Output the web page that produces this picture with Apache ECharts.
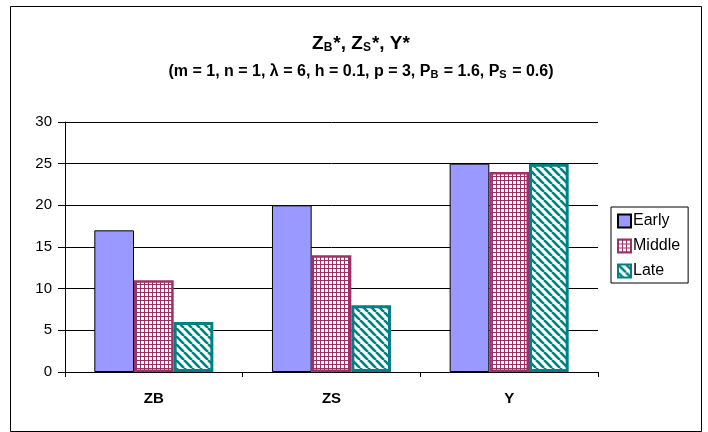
<!DOCTYPE html>
<html>
<head>
<meta charset="utf-8">
<script src="https://cdn.jsdelivr.net/npm/echarts@6/dist/echarts.min.js"></script>
<style>
  html, body { margin: 0; padding: 0; background: #fff; }
  #chart { width: 708px; height: 432px; }
</style>
</head>
<body>
<div id="chart"></div>
<script>
const categories = ['ZB', 'ZS', 'Y'];
const seriesNames = ['Early', 'Middle', 'Late'];
const earlyValues = [17, 20, 25];
const middleValues = [11, 14, 24];
const lateValues = [6, 8, 25];
const yTicks = [0, 5, 10, 15, 20, 25, 30];

// hatch patterns drawn on small canvases
const makeGrid = () => {
  const c = document.createElement('canvas');
  c.width = 4; c.height = 4;
  const ctx = c.getContext('2d');
  ctx.fillStyle = '#ffffff';
  ctx.fillRect(0, 0, 4, 4);
  ctx.fillStyle = '#993366';
  ctx.fillRect(0, 0, 4, 1);
  ctx.fillRect(0, 0, 1, 4);
  return c;
};

const makeDiag = () => {
  const s = 8;
  const c = document.createElement('canvas');
  c.width = s; c.height = s;
  const ctx = c.getContext('2d');
  ctx.fillStyle = '#ffffff';
  ctx.fillRect(0, 0, s, s);
  ctx.strokeStyle = '#008080';
  ctx.lineWidth = 2.6;
  ctx.beginPath();
  for (let k = -1; k <= 1; k++) {
    ctx.moveTo(k * s, 0);
    ctx.lineTo(k * s + s, s);
  }
  ctx.stroke();
  return c;
};

const chart = echarts.init(document.getElementById('chart'));

const fontFamily = 'Liberation Sans, Arial, sans-serif';

const option = {
  backgroundColor: '#ffffff',
  animation: false,
  title: [
    {
      text: 'Z{sub|B}*, Z{sub|S}*, Y*',
      left: 356,
      textAlign: 'center',
      top: 29,
      textStyle: {
        fontFamily,
        fontSize: 19,
        fontWeight: 'bold',
        color: '#000',
        lineHeight: 20,
        rich: {
          sub: {
            fontFamily,
            fontSize: 12,
            fontWeight: 'bold',
            color: '#000',
            verticalAlign: 'bottom',
            lineHeight: 14,
            padding: [13, 1, 0, 0]
          }
        }
      }
    },
    {
      text: '(m = 1, n = 1, λ = 6, h = 0.1, p = 3, P{sub|B} = 1.6, P{sub|S} = 0.6)',
      left: 356,
      textAlign: 'center',
      top: 58,
      textStyle: {
        fontFamily,
        fontSize: 16,
        fontWeight: 'bold',
        color: '#000',
        lineHeight: 17,
        rich: {
          sub: {
            fontFamily,
            fontSize: 11,
            fontWeight: 'bold',
            color: '#000',
            verticalAlign: 'bottom',
            lineHeight: 12,
            padding: [8, 1, 0, 0]
          }
        }
      }
    }
  ],
  graphic: [
    {
      type: 'rect',
      shape: { x: 10.5, y: 6.5, width: 691, height: 425 },
      style: { fill: 'none', stroke: '#000', lineWidth: 1 },
      silent: true
    }
  ],
  legend: {
    orient: 'vertical',
    left: 611,
    top: 207,
    padding: [6, 8, 4, 6],
    itemGap: 9,
    itemWidth: 13,
    itemHeight: 13,
    borderColor: '#000',
    borderWidth: 1,
    data: seriesNames.map(n => ({ name: n, icon: 'rect' })),
    textStyle: { fontFamily, fontSize: 16, color: '#000', padding: [0, 0, 0, -3] }
  },
  grid: {
    left: 65,
    right: 110,
    top: 122,
    bottom: 60,
    containLabel: false
  },
  xAxis: {
    type: 'category',
    data: categories,
    axisLine: { lineStyle: { color: '#000', width: 1 } },
    axisTick: { show: true, alignWithLabel: false, length: 5, lineStyle: { color: '#000' } },
    axisLabel: {
      fontFamily,
      fontSize: 15,
      fontWeight: 'bold',
      color: '#000',
      margin: 19
    },
    splitLine: { show: false }
  },
  yAxis: {
    type: 'value',
    min: 0,
    max: 30,
    interval: 5,
    axisLine: { show: true, lineStyle: { color: '#000', width: 1 } },
    axisTick: { show: true, length: 7, lineStyle: { color: '#000' } },
    axisLabel: {
      fontFamily,
      fontSize: 15,
      color: '#000',
      margin: 13,
      formatter: v => (yTicks.includes(v) ? String(v) : '')
    },
    splitLine: { show: true, lineStyle: { color: '#000', width: 1 } }
  },
  series: [
    {
      name: 'Early',
      type: 'bar',
      data: earlyValues,
      barGap: '0%',
      barCategoryGap: '33%',
      itemStyle: { color: '#9999ff', borderColor: '#000', borderWidth: 1 }
    },
    {
      name: 'Middle',
      type: 'bar',
      data: middleValues,
      barGap: '0%',
      barCategoryGap: '33%',
      itemStyle: {
        color: { image: makeGrid(), repeat: 'repeat' },
        borderColor: '#993366',
        borderWidth: 2.5
      }
    },
    {
      name: 'Late',
      type: 'bar',
      data: lateValues,
      barGap: '0%',
      barCategoryGap: '33%',
      itemStyle: {
        color: { image: makeDiag(), repeat: 'repeat' },
        borderColor: '#008080',
        borderWidth: 3
      }
    }
  ]
};

chart.setOption(option);
</script>
</body>
</html>
